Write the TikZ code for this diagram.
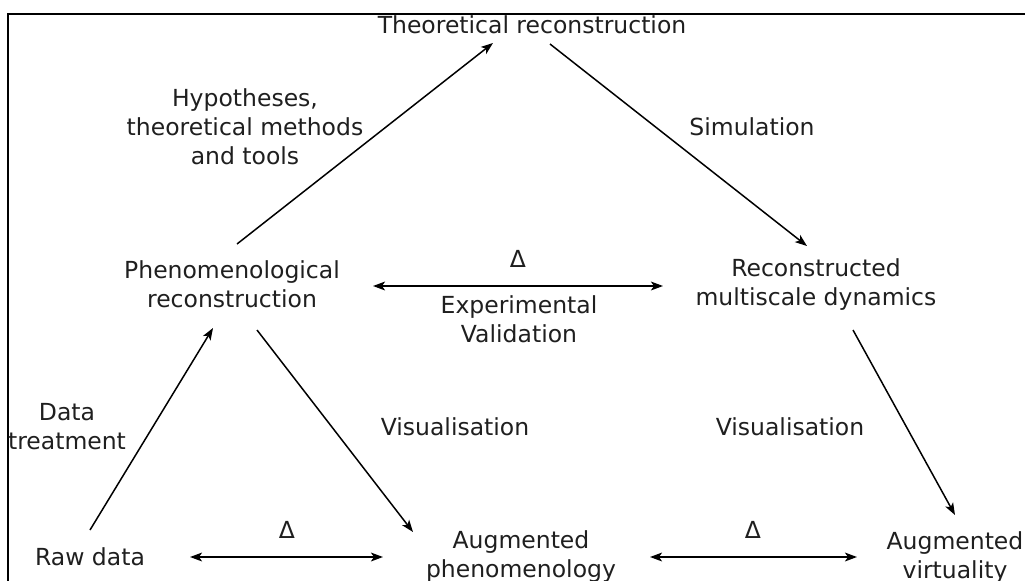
\documentclass[tikz,border=0pt]{standalone}
\usepackage{fontspec}
\setmainfont{DejaVu Sans}
\usetikzlibrary{arrows.meta}
\definecolor{txt}{gray}{0.12}
\tikzset{
  lbl/.style={anchor=base, inner sep=0pt, align=center, text=txt,
    font=\fontsize{11.75}{14.5}\selectfont},
  arr/.style={line width=0.75pt, -{Stealth[length=6pt,width=4.4pt,inset=1.5pt]}},
  darr/.style={line width=0.85pt, {Stealth[length=6pt,width=4.4pt,inset=1.5pt]}-{Stealth[length=6pt,width=4.4pt,inset=1.5pt]}},
  frame/.style={line width=1pt}
}
\begin{document}
\begin{tikzpicture}[x=0.5pt,y=-0.5pt]
\useasboundingbox (0,0) rectangle (1025,580);
\clip (0,0) rectangle (1025,580);
\draw[frame] (8,590) -- (8,14) -- (1030,14);

\node[lbl] (theo)  at (532,33)  {Theoretical reconstruction};
\node[lbl] (hyp)   at (245,164) {Hypotheses,\\theoretical methods\\and tools};
\node[lbl] (sim)   at (752,135) {Simulation};
\node[lbl] (phen)  at (232,307) {Phenomenological\\reconstruction};
\node[lbl] (d1)    at (518,267) {Δ};
\node[lbl] (exp)   at (519,342) {Experimental\\Validation};
\node[lbl] (rec)   at (816,305) {Reconstructed\\multiscale dynamics};
\node[lbl] (data)  at (67,449)  {Data\\treatment};
\node[lbl] (vis1)  at (455,435) {Visualisation};
\node[lbl] (vis2)  at (790,435) {Visualisation};
\node[lbl] (d2)    at (287,538) {Δ};
\node[lbl] (d3)    at (753,538) {Δ};
\node[lbl] (raw)   at (90,565)  {Raw data};
\node[lbl] (augp)  at (521,577) {Augmented\\phenomenology};
\node[lbl] (augv)  at (955,578) {Augmented\\virtuality};

\draw[arr] ([shift={(5,-63)}]phen.base) -- ([shift={(-39,10)}]theo.base);
\draw[arr] ([shift={(18,11)}]theo.base) -- ([shift={(-9,-59)}]rec.base);
\draw[arr] ([shift={(0,-35)}]raw.base) -- ([shift={(-19,21)}]phen.base);
\draw[arr] ([shift={(25,23)}]phen.base) -- ([shift={(-108,-45)}]augp.base);
\draw[arr] ([shift={(37,25)}]rec.base) -- ([shift={(0,-63)}]augv.base);
\draw[darr] ([shift={(141,-21)}]phen.base) -- ([shift={(-153,-19)}]rec.base);
\draw[darr] ([shift={(100,-8)}]raw.base) -- ([shift={(-138,-20)}]augp.base);
\draw[darr] ([shift={(129,-20)}]augp.base) -- ([shift={(-98,-21)}]augv.base);
\end{tikzpicture}
\end{document}
